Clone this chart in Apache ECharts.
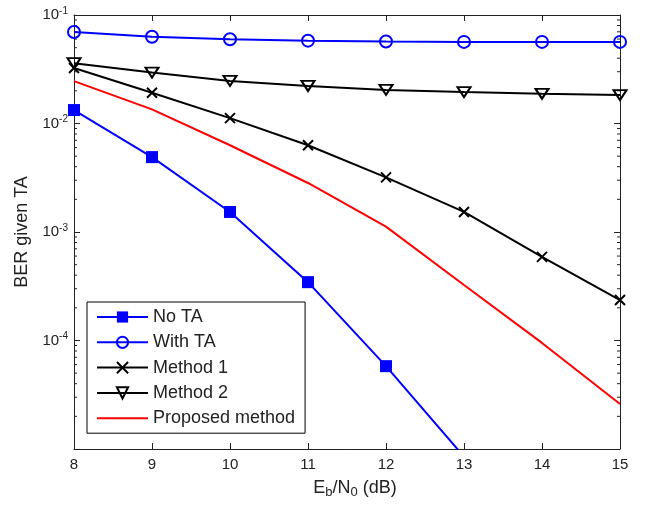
<!DOCTYPE html>
<html>
<head>
<meta charset="utf-8">
<script src="https://cdn.jsdelivr.net/npm/echarts@6/dist/echarts.min.js"></script>
<style>
  html, body { margin: 0; padding: 0; background: #fff; }
  #main { width: 646px; height: 505px; }
</style>
</head>
<body>
<div id="main"></div>
<script>
var snr = [8, 9, 10, 11, 12, 13, 14, 15];
var noTA = [1.33e-2, 4.9e-3, 1.53e-3, 3.45e-4, 5.8e-5, 8.5e-6];
var withTA = [6.97e-2, 6.3e-2, 5.97e-2, 5.8e-2, 5.7e-2, 5.65e-2, 5.65e-2, 5.65e-2];
var method1 = [3.25e-2, 1.92e-2, 1.12e-2, 6.3e-3, 3.19e-3, 1.53e-3, 5.9e-4, 2.36e-4];
var method2 = [3.6e-2, 2.95e-2, 2.47e-2, 2.22e-2, 2.04e-2, 1.95e-2, 1.88e-2, 1.83e-2];
var proposed = [2.46e-2, 1.35e-2, 6.3e-3, 2.83e-3, 1.12e-3, 3.25e-4, 9.5e-5, 2.6e-5];

var FONT = 'Liberation Sans';
var AX = '#222';

function pairs(arr) {
  return arr.map(function (v, i) { return [snr[i], v]; });
}

var chart = echarts.init(document.getElementById('main'));

var xBase = {
  type: 'value', min: 8, max: 15, interval: 1,
  axisLine: { show: true, onZero: false, lineStyle: { color: AX, width: 1 } },
  axisTick: { show: true, inside: true, length: 6, lineStyle: { color: AX } },
  splitLine: { show: false }
};
var yBase = {
  type: 'log', logBase: 10, min: 1e-5, max: 1e-1,
  axisLine: { show: true, onZero: false, lineStyle: { color: AX, width: 1 } },
  axisTick: { show: true, inside: true, length: 6, lineStyle: { color: AX } },
  splitLine: { show: false }
};

var option = {
  animation: false,
  backgroundColor: '#fff',
  textStyle: { fontFamily: FONT },
  grid: { left: 74, right: 26, top: 15, bottom: 56 },
  xAxis: [
    Object.assign({}, xBase, {
      position: 'bottom',
      name: 'E{sub|b}/N{sub|0} (dB)',
      nameLocation: 'middle',
      nameGap: 29,
      nameTextStyle: {
        color: AX, fontSize: 18, fontFamily: FONT, padding: [0, 0, 0, 16],
        rich: { sub: { fontSize: 13, fontFamily: FONT, color: AX, padding: [8, 0, 0, 0] } }
      },
      axisLabel: { color: AX, fontSize: 15, fontFamily: FONT, margin: 8 }
    }),
    Object.assign({}, xBase, { position: 'top', axisLabel: { show: false } })
  ],
  yAxis: [
    Object.assign({}, yBase, {
      position: 'left',
      name: 'BER given TA',
      nameLocation: 'middle',
      nameGap: 43,
      nameTextStyle: { color: AX, fontSize: 18, fontFamily: FONT },
      axisLabel: {
        color: AX, fontSize: 15, fontFamily: FONT, margin: 6,
        formatter: function (v) {
          var p = Math.round(Math.log10(v));
          if (p === -5) return '';
          return '{b|10}{s|' + p + '}';
        },
        rich: {
          b: { fontSize: 15, fontFamily: FONT, color: AX },
          s: { fontSize: 10, fontFamily: FONT, color: AX, padding: [0, 0, 8, 0] }
        }
      }
    }),
    Object.assign({}, yBase, { position: 'right', axisLabel: { show: false } })
  ],
  legend: {
    orient: 'vertical',
    left: 87, top: 302,
    padding: [6, 10, 6, 9],
    itemWidth: 51, itemHeight: 14, itemGap: 7.3,
    backgroundColor: '#fff',
    borderColor: '#000', borderWidth: 1, borderRadius: 0,
    textStyle: { color: AX, fontSize: 18, fontFamily: FONT },
    data: ['No TA', 'With TA', 'Method 1', 'Method 2',
      { name: 'Proposed method', icon: 'path://M0,6L51,6L51,8L0,8Z' }]
  },
  series: [
    {
      name: 'No TA', type: 'line', data: pairs(noTA),
      symbol: 'rect', symbolSize: 12, clip: true,
      lineStyle: { color: '#0000ff', width: 2 },
      itemStyle: { color: '#0000ff' }
    },
    {
      name: 'With TA', type: 'line', data: pairs(withTA),
      symbol: 'circle', symbolSize: 12,
      lineStyle: { color: '#0000ff', width: 2 },
      itemStyle: { color: 'rgba(0,0,0,0)', borderColor: '#0000ff', borderWidth: 2 }
    },
    {
      name: 'Method 1', type: 'line', data: pairs(method1),
      symbol: 'path://M0,0L10,10M10,0L0,10', symbolSize: 10,
      lineStyle: { color: '#000', width: 2 },
      itemStyle: { color: 'rgba(0,0,0,0)', borderColor: '#000', borderWidth: 2 }
    },
    {
      name: 'Method 2', type: 'line', data: pairs(method2),
      symbol: 'path://M0,0L14,0L7,11Z', symbolSize: [13, 10],
      lineStyle: { color: '#000', width: 2 },
      itemStyle: { color: 'rgba(0,0,0,0)', borderColor: '#000', borderWidth: 2 }
    },
    {
      name: 'Proposed method', type: 'line', data: pairs(proposed),
      symbol: 'none',
      lineStyle: { color: '#ff0000', width: 2 },
      itemStyle: { color: '#ff0000' }
    }
  ]
};

chart.setOption(option);

// log minor ticks (2..9 per decade) on the left and right edges
var minorVals = [];
for (var e = -5; e < -1; e++) {
  for (var k = 2; k <= 9; k++) minorVals.push(k * Math.pow(10, e));
}
var xl = chart.convertToPixel({ xAxisIndex: 0 }, 8);
var xr = chart.convertToPixel({ xAxisIndex: 0 }, 15);
var ticks = [];
minorVals.forEach(function (v) {
  var py = chart.convertToPixel({ yAxisIndex: 0 }, v);
  ticks.push({ type: 'line', silent: true, shape: { x1: xl, y1: py, x2: xl + 3, y2: py }, style: { stroke: AX, lineWidth: 1 } });
  ticks.push({ type: 'line', silent: true, shape: { x1: xr - 3, y1: py, x2: xr, y2: py }, style: { stroke: AX, lineWidth: 1 } });
});
chart.setOption({ graphic: ticks });
</script>
</body>
</html>
